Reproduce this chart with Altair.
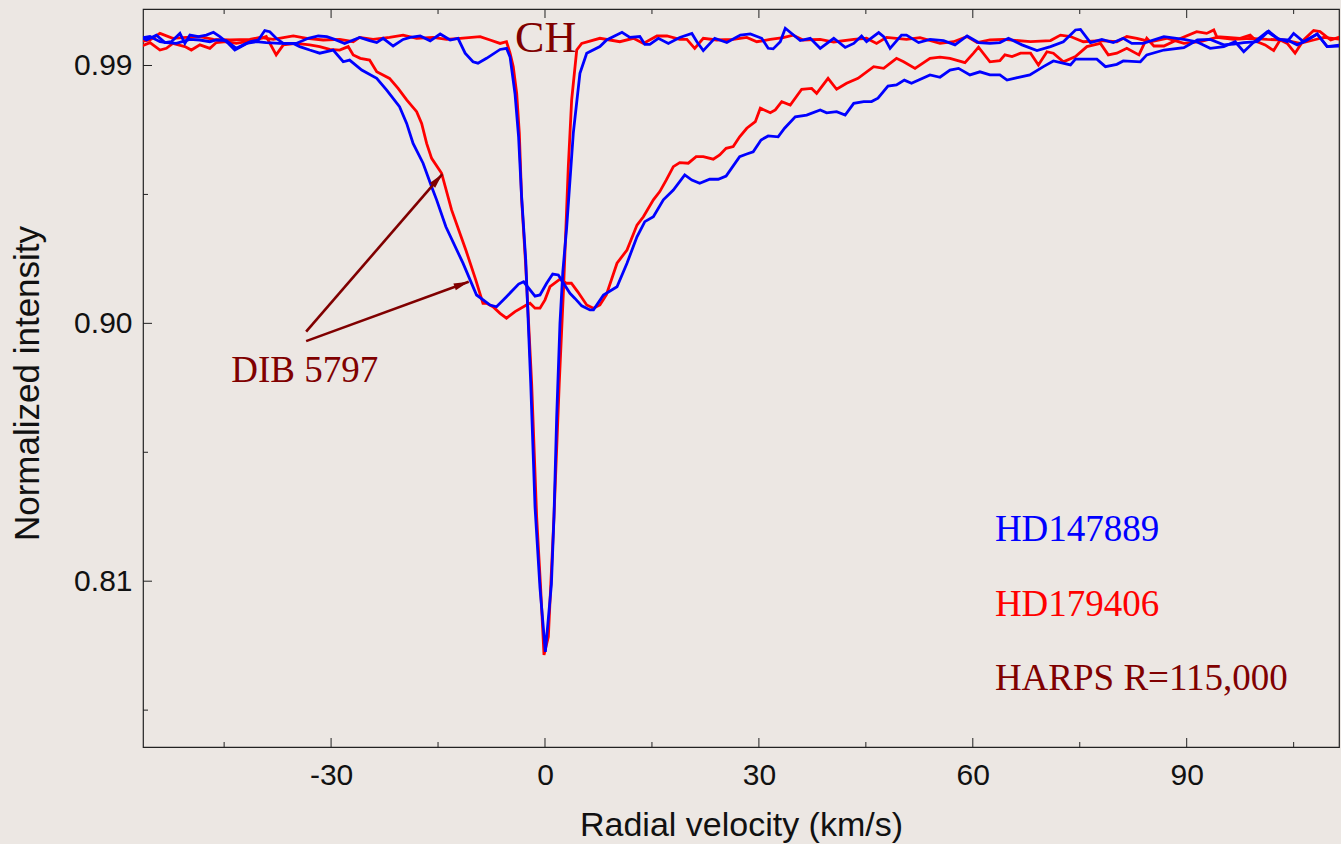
import altair as alt
import pandas as pd

# ---------------- data ----------------
BLUE_CH = [(-56.8,1.0001),(-55.9,0.9989),(-54.5,1.0006),(-53.3,0.9980),(-52.4,0.9983),(-51.2,1.0012),(-50.5,0.9977),
(-49.8,1.0006),(-48.6,1.0001),(-47.5,1.0006),(-46.5,1.0016),(-45.6,1.0001),(-44.4,0.9977),(-43.5,0.9954),(-42.6,0.9966),
(-41.4,0.9983),(-40.2,0.9989),(-39.3,1.0022),(-38.6,1.0018),(-37.7,0.9995),(-36.7,0.9977),(-34.9,0.9977),(-33.2,0.9995),
(-31.8,1.0003),(-30.6,1.0001),(-29.5,0.9991),(-28.1,0.9977),(-26.0,0.9998),(-24.6,0.9987),(-23.6,0.9980),(-22.7,0.9995),
(-21.3,0.9968),(-19.9,0.9991),(-18.9,0.9998),(-17.5,1.0003),(-16.1,0.9986),(-14.7,1.0010),(-13.3,0.9989),(-12.2,0.9995),
(-11.2,0.9943),(-10.1,0.9913),(-9.4,0.9908),(-8.2,0.9925),(-6.3,0.9956),(-5.4,0.9960),(-4.9,0.9930),(-4.2,0.9800),
(-3.7,0.9650),(-3.3,0.9450),(-2.7,0.9220),(-2.0,0.8790),(-1.4,0.8360),(-0.7,0.8076),(0.05,0.7853),(0.9,0.8090),
(1.26,0.8325),(1.64,0.8674),(2.1,0.9000),(2.5,0.9180),(3.04,0.9335),(3.97,0.9664),(4.9,0.9873),(5.85,0.9943),
(7.7,0.9966),(8.65,0.9989),(10.8,1.0016),(11.9,0.9998),(13.3,1.0001),(14.0,0.9974),(14.7,0.9974),(15.9,0.9995),
(17.3,0.9977),(18.9,0.9998),(20.6,1.0012),(21.3,0.9983),(22.2,0.9952),(23.8,0.9995),(25.5,0.9980),(27.4,1.0006),
(28.8,1.0010),(30.4,0.9995),(31.3,0.9960),(32.0,0.9958),(33.0,0.9983),(33.7,1.0030),(35.8,0.9987),(37.2,0.9995),
(38.6,0.9960),(40.5,0.9995),(42.1,0.9963),(43.3,0.9977),(44.4,1.0003),(45.1,0.9983),(46.8,1.0015),(47.5,1.0001),
(48.4,0.9960),(50.0,1.0006),(50.7,1.0006),(52.4,0.9980),(54.0,0.9991),(55.9,0.9987),(57.5,0.9972),(59.2,1.0003),
(60.8,0.9980),(62.4,0.9977),(63.8,0.9980),(65.0,0.9995),(66.9,0.9972),(69.0,0.9952),(70.9,0.9966),(72.7,0.9983),
(74.4,1.0024),(75.1,1.0026),(76.5,0.9980),(78.1,0.9991),(79.7,0.9980),(81.1,0.9995),(82.3,0.9977),(83.9,0.9977),
(86.8,1.0001),(89.6,0.9991),(91.4,0.9983),(93.3,0.9960),(95.2,0.9966),(96.8,0.9983),(98.0,0.9948),(99.2,0.9977),
(101.3,1.0018),(102.7,0.9995),(104.1,0.9983),(105.0,1.0012),(106.4,0.9983),(108.3,1.0010),(109.7,0.9966),(111.7,0.9972)]

RED_CH = [(-56.8,0.9983),(-55.4,0.9989),(-54.0,1.0012),(-52.2,0.9995),(-50.3,0.9998),(-48.4,1.0001),(-46.5,0.9991),
(-44.2,0.9989),(-41.4,0.9991),(-40.0,0.9998),(-38.1,0.9991),(-35.3,1.0003),(-33.4,0.9995),(-31.1,0.9989),(-28.8,0.9991),
(-26.9,0.9983),(-26.0,0.9998),(-24.1,0.9991),(-21.8,0.9998),(-19.9,1.0006),(-18.0,0.9995),(-15.7,0.9998),(-13.8,0.9991),
(-11.9,0.9995),(-9.1,1.0001),(-7.7,0.9989),(-6.3,0.9977),(-5.4,0.9983),(-4.9,0.9943),(-4.45,0.9896),(-3.97,0.9803),
(-3.6,0.9663),(-3.27,0.9431),(-2.7,0.9200),(-1.87,0.8790),(-1.17,0.8325),(-0.61,0.8076),(-0.14,0.7843),(0.47,0.7906),
(1.26,0.8325),(2.0,0.8790),(2.6,0.9120),(3.27,0.9547),(3.74,0.9780),(4.45,0.9954),(5.15,0.9977),(7.7,0.9995),
(9.1,0.9989),(10.5,0.9983),(12.4,0.9995),(13.8,0.9977),(15.7,1.0003),(17.1,1.0003),(18.9,0.9991),(19.9,0.9991),
(21.0,0.9960),(22.2,0.9995),(24.1,0.9989),(26.4,0.9991),(28.3,0.9998),(29.7,0.9983),(31.6,0.9991),(33.4,0.9997),
(34.8,1.0006),(36.2,0.9989),(38.6,0.9991),(40.5,0.9982),(43.3,0.9991),(45.1,0.9995),(46.5,0.9977),(47.9,0.9998),
(50.7,0.9991),(52.6,0.9997),(55.4,0.9977),(57.3,0.9983),(59.2,1.0001),(60.6,0.9980),(62.4,0.9989),(64.3,0.9991),
(68.1,0.9983),(70.9,0.9987),(72.3,1.0006),(73.7,1.0001),(75.5,0.9983),(77.9,0.9987),(80.2,0.9983),(81.6,1.0001),
(83.0,0.9995),(84.9,0.9983),(87.2,0.9995),(89.6,0.9977),(91.9,0.9983),(94.2,0.9998),(96.6,0.9991),(98.9,0.9995),
(101.3,0.9991),(103.6,0.9989),(105.9,0.9977),(107.8,0.9989),(109.2,0.9998),(111.7,0.9991)]

BLUE_DIB = [(-56.8,0.9995),(-55.4,1.0001),(-54.0,0.9983),(-53.1,0.9980),(-51.7,0.9977),(-49.8,0.9991),(-48.4,0.9989),
(-47.0,0.9983),(-46.1,0.9989),(-44.7,0.9987),(-43.3,0.9960),(-41.9,0.9977),(-40.5,0.9983),(-39.1,0.9980),(-37.2,0.9977),
(-35.3,0.9977),(-34.4,0.9966),(-33.0,0.9954),(-31.6,0.9943),(-29.7,0.9954),(-28.3,0.9913),(-27.4,0.9919),(-25.7,0.9884),
(-23.6,0.9855),(-22.2,0.9814),(-20.4,0.9756),(-19.4,0.9698),(-18.5,0.9628),(-17.1,0.9559),(-15.9,0.9477),(-15.2,0.9431),
(-13.9,0.9337),(-11.5,0.9210),(-9.6,0.9099),(-7.7,0.9064),(-6.8,0.9058),(-5.4,0.9093),(-3.7,0.9137),(-3.0,0.9145),
(-1.4,0.9095),(-0.7,0.9099),(0.23,0.9140),(1.08,0.9172),(1.87,0.9169),(3.5,0.9105),(4.2,0.9087),(5.15,0.9061),
(6.3,0.9047),(6.8,0.9047),(8.2,0.9099),(10.1,0.9128),(11.5,0.9210),(12.9,0.9302),(14.0,0.9355),(15.2,0.9372),
(16.6,0.9431),(18.0,0.9465),(19.6,0.9518),(20.6,0.9500),(21.7,0.9489),(23.1,0.9503),(24.3,0.9503),(25.4,0.9514),
(27.3,0.9582),(28.3,0.9591),(29.2,0.9599),(30.3,0.9640),(31.3,0.9654),(32.7,0.9651),(33.6,0.9681),(35.1,0.9721),
(36.7,0.9727),(38.6,0.9745),(39.5,0.9735),(40.9,0.9739),(42.1,0.9727),(43.3,0.9768),(44.7,0.9774),(45.8,0.9774),
(46.7,0.9786),(48.1,0.9828),(49.3,0.9832),(50.4,0.9849),(51.4,0.9838),(54.0,0.9867),(55.4,0.9859),(56.8,0.9884),
(58.0,0.9890),(59.6,0.9867),(61.0,0.9878),(62.4,0.9867),(63.8,0.9867),(64.8,0.9849),(66.1,0.9857),(68.0,0.9867),
(69.9,0.9896),(71.3,0.9916),(73.7,0.9902),(74.4,0.9922),(77.4,0.9922),(78.6,0.9896),(80.2,0.9904),(81.1,0.9916),
(83.5,0.9913),(84.4,0.9937),(86.8,0.9954),(89.6,0.9962),(91.5,0.9989),(93.3,0.9991),(95.2,0.9972),(96.6,0.9975),
(98.0,0.9980),(99.9,0.9983),(101.5,1.0020),(102.9,0.9991),(104.1,0.9989),(105.5,0.9972),(106.9,0.9989),(108.3,1.0010),
(109.7,0.9966),(111.7,0.9968)]

RED_DIB = [(-56.8,0.9966),(-55.4,0.9980),(-54.0,0.9954),(-53.1,0.9960),(-52.2,0.9977),(-50.5,0.9966),(-49.6,0.9954),
(-48.4,0.9972),(-47.0,0.9960),(-46.1,0.9980),(-44.7,0.9983),(-43.3,0.9977),(-41.9,0.9983),(-40.5,0.9989),(-39.1,1.0001),
(-37.7,0.9937),(-36.7,0.9972),(-34.9,0.9977),(-33.0,0.9972),(-31.6,0.9966),(-30.2,0.9956),(-28.8,0.9954),(-27.6,0.9966),
(-26.9,0.9937),(-25.9,0.9925),(-24.6,0.9919),(-23.6,0.9878),(-21.8,0.9855),(-20.6,0.9820),(-19.4,0.9780),(-18.0,0.9739),
(-17.3,0.9698),(-16.6,0.9628),(-15.9,0.9576),(-14.5,0.9524),(-13.1,0.9396),(-11.1,0.9256),(-9.7,0.9151),(-8.7,0.9070),
(-8.2,0.9070),(-7.3,0.9058),(-6.3,0.9035),(-5.4,0.9018),(-4.2,0.9041),(-2.6,0.9064),(-2.1,0.9070),(-1.4,0.9053),
(-0.7,0.9053),(0.0,0.9082),(0.7,0.9128),(2.1,0.9154),(3.0,0.9140),(3.7,0.9140),(4.6,0.9110),(5.85,0.9064),(6.8,0.9053),
(7.7,0.9064),(8.6,0.9099),(10.1,0.9210),(11.5,0.9256),(12.9,0.9343),(13.8,0.9372),(15.2,0.9431),(16.1,0.9460),
(17.0,0.9500),(18.0,0.9547),(18.9,0.9561),(20.1,0.9559),(21.2,0.9582),(22.2,0.9582),(23.6,0.9573),(24.5,0.9588),
(25.4,0.9611),(26.4,0.9617),(27.3,0.9651),(28.3,0.9681),(29.5,0.9704),(30.2,0.9751),(31.6,0.9735),(32.3,0.9745),
(33.2,0.9774),(34.4,0.9762),(36.0,0.9817),(37.4,0.9820),(38.1,0.9803),(39.7,0.9855),(40.9,0.9817),(42.3,0.9838),
(43.9,0.9855),(46.1,0.9896),(47.5,0.9890),(49.3,0.9925),(50.3,0.9913),(51.9,0.9890),(54.0,0.9925),(55.4,0.9929),
(56.8,0.9925),(58.9,0.9910),(60.1,0.9943),(60.8,0.9964),(62.4,0.9913),(63.8,0.9917),(64.5,0.9937),(65.5,0.9931),
(66.7,0.9943),(68.1,0.9943),(69.2,0.9902),(70.4,0.9948),(71.3,0.9943),(72.7,0.9913),(74.4,0.9931),(76.0,0.9966),
(77.9,0.9977),(79.0,0.9937),(80.2,0.9943),(81.6,0.9960),(83.3,0.9937),(84.4,0.9995),(85.4,0.9968),(86.8,0.9968),
(88.6,0.9989),(91.4,1.0018),(92.8,1.0012),(93.8,1.0024),(94.2,1.0001),(95.7,0.9998),(97.5,0.9995),(98.9,1.0006),
(99.9,0.9983),(101.0,0.9972),(102.2,0.9952),(103.1,0.9989),(104.1,0.9977),(105.2,0.9943),(106.4,0.9989),(107.8,1.0022),
(108.7,1.0018),(110.2,0.9989),(111.7,1.0001)]

X_MAJOR = [-30, 0, 30, 60, 90]
X_MINOR = [-45, -15, 15, 45, 75, 105]
Y_MAJOR = [0.81, 0.90, 0.99]
Y_MINOR = [0.765, 0.855, 0.945]

LABELS = ["CH", "DIB 5797", "HD147889", "HD179406", "HARPS R=115,000"]
LABEL_X = [-4.2, -44.0, 63.1, 63.1, 63.1]
LABEL_Y = [0.9946, 0.8795, 0.8241, 0.7980, 0.7719]
LABEL_SIZE = [44, 37, 37, 37, 37]
LABEL_COLOR = ["#800000", "#800000", "#0000ff", "#ff0000", "#800000"]

ARROW_X0 = [-33.5, -33.5]
ARROW_Y0 = [0.8971, 0.8938]
ARROW_X1 = [-14.4, -10.7]
ARROW_Y1 = [0.9521, 0.9145]
ARROW_ANGLE = [310.9, 340.0]

# ---------------- geometry / style ----------------
W, H = 1196, 738
BG = "#ece7e3"
DARK = "#800000"
XS = alt.Scale(domain=[-56.38, 111.36], nice=False, zero=False)
YS = alt.Scale(domain=[0.75213, 1.00972], nice=False, zero=False)

XAX = alt.Axis(values=X_MAJOR, labelExpr="'' + datum.value", ticks=False, tickSize=0,
               domain=False, grid=False, labelPadding=13, labelFontSize=30,
               labelFont="Liberation Sans", labelColor="#111111",
               title="Radial velocity (km/s)", titleFont="Liberation Sans",
               titleFontSize=34, titleFontWeight="normal", titleColor="#111111",
               titleBaseline="alphabetic", titleY=88, titleX=598, titleAlign="center")
YAX = alt.Axis(values=Y_MAJOR, format=".2f", ticks=False, tickSize=0,
               domain=False, grid=False, labelPadding=11, labelFontSize=30,
               labelFont="Liberation Sans", labelColor="#111111",
               title="Normalized intensity", titleFont="Liberation Sans",
               titleFontSize=35, titleFontWeight="normal", titleColor="#111111",
               titleAngle=270, titleBaseline="alphabetic", titleAlign="center",
               titleX=-105, titleY=374)


def X(field):
    return alt.X(field, scale=XS, axis=XAX)


def Y(field):
    return alt.Y(field, scale=YS, axis=YAX)


def series(points, color):
    df = pd.DataFrame(points, columns=["v", "i"])
    return alt.Chart(df).mark_line(color=color, strokeWidth=2.8, clip=True).encode(
        x=X("v:Q"), y=Y("i:Q"))


def xticks(vals, length):
    df = pd.DataFrame({"t": vals})
    bottom = alt.Chart(df).mark_rule(color="#222222", strokeWidth=1).encode(
        x=X("t:Q"), y=alt.value(H), y2=alt.value(H - length))
    top = alt.Chart(df).mark_rule(color="#222222", strokeWidth=1).encode(
        x=X("t:Q"), y=alt.value(0), y2=alt.value(length))
    return [bottom, top]


def yticks(vals, length):
    df = pd.DataFrame({"t": vals})
    return [alt.Chart(df).mark_rule(color="#222222", strokeWidth=1).encode(
        y=Y("t:Q"), x=alt.value(0), x2=alt.value(length))]


ticks = xticks(X_MAJOR, 9) + xticks(X_MINOR, 5) + yticks(Y_MAJOR, 9) + yticks(Y_MINOR, 5)

arrows_df = pd.DataFrame({"x0": ARROW_X0, "y0": ARROW_Y0, "x1": ARROW_X1, "y1": ARROW_Y1,
                          "ang": ARROW_ANGLE})
shafts = alt.Chart(arrows_df).mark_rule(color=DARK, strokeWidth=2.6).encode(
    x=X("x0:Q"), y=Y("y0:Q"), x2="x1:Q", y2="y1:Q")
heads = alt.Chart(arrows_df).mark_point(
    shape="M0,0 L-2,-0.47 L-2,0.47 Z", filled=True, opacity=1, size=225, color=DARK, strokeWidth=0
).encode(x=X("x1:Q"), y=Y("y1:Q"), angle=alt.Angle("ang:Q", scale=None))

labels_df = pd.DataFrame({"t": LABELS, "x": LABEL_X, "y": LABEL_Y, "s": LABEL_SIZE, "c": LABEL_COLOR})
texts = alt.Chart(labels_df).mark_text(align="left", baseline="alphabetic",
                                       font="Liberation Serif").encode(
    x=X("x:Q"), y=Y("y:Q"), text="t:N",
    size=alt.Size("s:Q", scale=None), color=alt.Color("c:N", scale=None))

chart = alt.layer(
    series(RED_DIB, "#ff0000"),
    series(RED_CH, "#ff0000"),
    series(BLUE_DIB, "#0000ff"),
    series(BLUE_CH, "#0000ff"),
    *ticks,
    shafts, heads, texts,
).properties(
    width=W, height=H, background=BG, autosize="none",
    padding={"left": 143, "top": 9, "right": 2, "bottom": 97},
).configure_view(stroke="#222222", strokeWidth=1.2, fill=BG)

chart.save("out.html", embed_options={"renderer": "svg", "actions": False})
